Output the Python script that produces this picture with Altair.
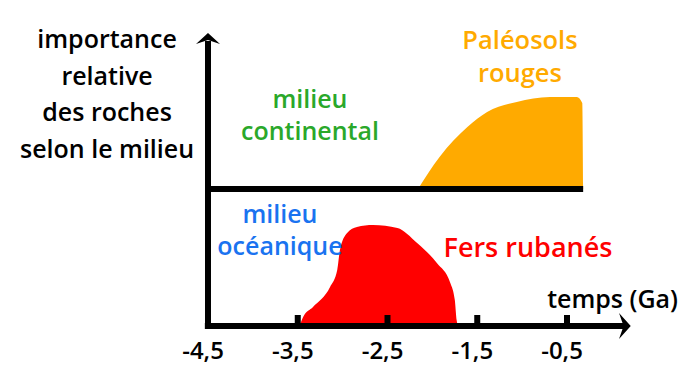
import altair as alt
import pandas as pd

# ---- data (time in Ga, importance in arbitrary units) ----
red_t = [-3.48, -3.44, -3.33, -3.14, -3.06, -3.03, -2.95, -2.84, -2.66, -2.39, -2.17, -1.95, -1.80, -1.75, -1.73, -1.71]
red_v = [0, 9, 19, 39, 56, 76, 93, 99, 101, 98, 83, 63, 43, 26, 6, 0]

orange_t = [-2.16, -1.92, -1.61, -1.39, -1.06, -0.69, -0.39, -0.33, -0.32]
orange_v = [137, 169, 199, 214, 224, 229, 229, 223, 137]
orange_base = 137

tick_vals = [-4.5, -3.5, -2.5, -1.5, -0.5]
tick_labels = ["-4,5", "-3,5", "-2,5", "-1,5", "-0,5"]

x_min, x_max = -6.7284, 0.8259
y_min, y_max = -42, 318
axis_end = 0.2
y_top = 293

label_text = ["importance\nrelative\ndes roches\nselon le milieu",
              "milieu\ncontinental", "Paléosols\nrouges",
              "milieu\nocéanique", "Fers rubanés", "temps (Ga)"]
label_x = [-5.625, -3.364, -1.024, -3.698, -0.935, 0.737]
label_y = [286, 226, 285, 111, 77, 26]
label_align = ["center", "center", "center", "center", "center", "right"]
label_color = ["#000000", "#2aa82a", "#ffaa00", "#1a73f0", "#ff0000", "#000000"]
label_size = [25, 25, 25.5, 25, 27, 25]
label_lh = [36.5, 32, 33, 32, 32, 30]

FONT = "Open Sans"
W, H = 678, 360
xs = alt.Scale(domain=[x_min, x_max], nice=False, zero=False)
ys = alt.Scale(domain=[y_min, y_max], nice=False, zero=False)
X = lambda f: alt.X(f, type="quantitative", scale=xs, axis=None)
Y = lambda f: alt.Y(f, type="quantitative", scale=ys, axis=None)

red = pd.DataFrame({"t": red_t, "v": red_v})
orange = pd.DataFrame({"t": orange_t, "v": orange_v, "b": [orange_base] * len(orange_t)})

red_area = alt.Chart(red).mark_area(color="#ff0000", interpolate="monotone").encode(
    x=X("t"), y=Y("v"), y2=alt.Y2(datum=0))
orange_area = alt.Chart(orange).mark_area(color="#ffaa00", interpolate="monotone").encode(
    x=X("t"), y=Y("v"), y2=alt.Y2("b"))

lines = pd.DataFrame({
    "x1": [tick_vals[0] - 0.035, tick_vals[0], tick_vals[0]],
    "x2": [axis_end - 0.03, tick_vals[0], orange_t[-1]],
    "y1": [0, -3, orange_base],
    "y2": [0, y_top - 8, orange_base],
})
axes = alt.Chart(lines).mark_rule(color="black", strokeWidth=6).encode(
    x=X("x1"), x2=alt.X2("x2"), y=Y("y1"), y2=alt.Y2("y2"))

ticks_df = pd.DataFrame({"t": tick_vals[1:]})
ticks = alt.Chart(ticks_df).mark_rule(color="black", strokeWidth=6).encode(
    x=X("t"), y=alt.Y(datum=0, scale=ys, axis=None), y2=alt.Y2(datum=11))

tl = pd.DataFrame({"t": tick_vals, "lab": tick_labels})
tick_text = alt.Chart(tl).mark_text(font=FONT, fontWeight=600, fontSize=24,
                                    baseline="middle", align="center", dx=-5).encode(
    x=X("t"), y=alt.Y(datum=-26, scale=ys, axis=None), text="lab")

arrow_r = pd.DataFrame({"x": [axis_end + 0.01], "y": [0]})
arrow_u = pd.DataFrame({"x": [tick_vals[0]], "y": [y_top]})
arrow_right = alt.Chart(arrow_r).mark_point(
    shape="M0,0 L-0.9,-1 L-0.55,0 L-0.9,1 Z", filled=True, color="black",
    size=676, opacity=1).encode(x=X("x"), y=Y("y"))
arrow_up = alt.Chart(arrow_u).mark_point(
    shape="M0,0 L1,0.92 L0,0.58 L-1,0.92 Z", filled=True, color="black",
    size=576, opacity=1).encode(x=X("x"), y=Y("y"))

labels = pd.DataFrame({"text": label_text, "x": label_x, "y": label_y})
text_layers = []
for i in range(len(labels)):
    row = labels.iloc[[i]]
    text_layers.append(
        alt.Chart(row).mark_text(font=FONT, fontWeight=600, align=label_align[i],
                                 baseline="middle", lineBreak="\n",
                                 lineHeight=float(label_lh[i]), fontSize=label_size[i],
                                 color=label_color[i]).encode(
            x=X("x"), y=Y("y"), text="text"))

chart = alt.layer(orange_area, red_area, axes, ticks, tick_text, arrow_right, arrow_up,
                  *text_layers).properties(
    width=W, height=H, padding=0, autosize=alt.AutoSizeParams(type="none")
).configure_view(strokeWidth=0)

chart.save("out.html", embed_options={"renderer": "svg", "actions": False})
